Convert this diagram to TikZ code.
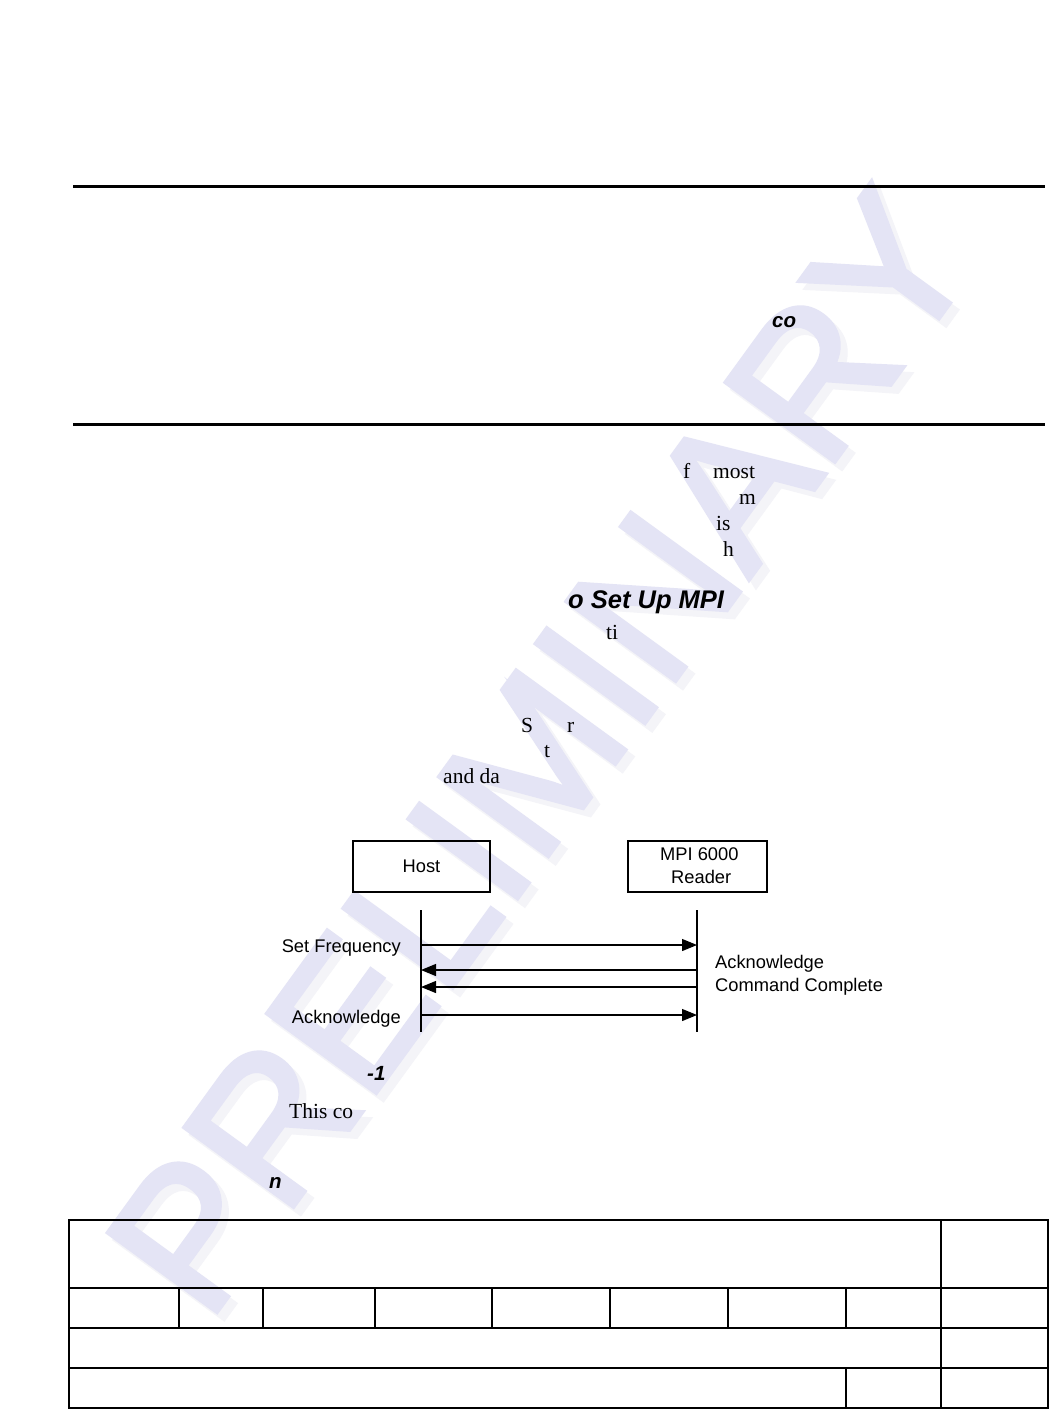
\documentclass[tikz,border=0pt]{standalone}
\usepackage{fontspec}
\setmainfont{Liberation Serif}
\newfontfamily\sansf{Liberation Sans}
\newfontfamily\wmfont{Liberation Sans}[FakeBold=2.5]
\usetikzlibrary{arrows.meta}
\definecolor{wmcol}{RGB}{228,228,245}
\definecolor{wmshadow}{RGB}{244,244,248}
\tikzset{
  body/.style={anchor=base west, inner sep=0pt, font=\fontsize{21.5}{26}\selectfont},
  headbi/.style={anchor=base west, inner sep=0pt, font=\sansf\bfseries\itshape\fontsize{20.5}{24}\selectfont},
  bigbi/.style={anchor=base west, inner sep=0pt, font=\sansf\bfseries\itshape\fontsize{25.5}{30}\selectfont},
  lbl/.style={inner sep=0pt, font=\sansf\fontsize{18.3}{22}\selectfont},
  actor/.style={draw, line width=1.4pt, minimum width=137pt, minimum height=51pt, inner sep=0pt, font=\sansf\fontsize{18.3}{23}\selectfont, align=center},
  life/.style={line width=1.4pt},
  msg/.style={line width=1.2pt, -{Triangle[length=15pt,width=12pt]}},
  rule/.style={line width=3pt},
  grid/.style={line width=1.8pt},
  wm/.style={anchor=base, inner sep=0pt, rotate=54, font=\wmfont\fontsize{195}{195}\selectfont}
}
\begin{document}
\begin{tikzpicture}[x=1pt,y=-1pt]
\useasboundingbox (0,0) rectangle (1049,1409);
\fill[white] (0,0) rectangle (1049,1409);
% watermark
\node[wm, text=wmshadow] (wms) at (602,798) {PRELIMINARY};
\node[wm, text=wmcol] (wm) at (595,791) {PRELIMINARY};
% rules
\draw[rule] (73,186) -- (1045,186);
\draw[rule] (73,424) -- (1045,424);
% text fragments
\node[headbi] (t1) at (772,327) {co};
\node[body] (t2) at (683,478) {f};
\node[body] (t3) at (713,478) {most};
\node[body] (t4) at (739,504) {m};
\node[body] (t5) at (716,530) {is};
\node[body] (t6) at (723,556) {h};
\node[bigbi] (t7) at (568,608) {o Set Up MPI};
\node[body] (t8) at (606,639) {ti};
\node[body] (t9) at (521,732) {S};
\node[body] (t10) at (567,732) {r};
\node[body] (t11) at (544,757) {t};
\node[body] (t12) at (443,783) {and da};
\node[headbi] (t13) at (367,1080) {-1};
\node[body] (t14) at (289,1118) {This co};
\node[headbi] (t15) at (269,1188) {n};
% sequence diagram
\node[actor] (host) at (421.5,866.5) {Host};
\node[actor, minimum width=139pt] (reader) at (697.5,866.5) {};
\node[lbl, anchor=base west] (rd1) at (660,860) {MPI 6000};
\node[lbl, anchor=base west] (rd2) at (671,883) {Reader};
\coordinate (h0) at (421,910);
\coordinate (h1) at (421,1032);
\coordinate (r0) at (697,910);
\coordinate (r1) at (697,1032);
\draw[life] (h0) -- (h1);
\draw[life] (r0) -- (r1);
\coordinate (ha) at (421,945); \coordinate (ra) at (697,945);
\coordinate (hb) at (421,970); \coordinate (rb) at (697,970);
\coordinate (hc) at (421,987); \coordinate (rc) at (697,987);
\coordinate (hd) at (421,1015); \coordinate (rd) at (697,1015);
\draw[msg] (ha) -- (ra);
\draw[msg] (rb) -- (hb);
\draw[msg] (rc) -- (hc);
\draw[msg] (hd) -- (rd);
\node[lbl, anchor=base east] (l1) at (401,952) {Set Frequency};
\node[lbl, anchor=base east] (l2) at (401,1023) {Acknowledge};
\node[lbl, anchor=base west] (l3) at (715,968) {Acknowledge};
\node[lbl, anchor=base west] (l4) at (715,991) {Command Complete};
% table
\draw[grid] (69,1220) rectangle (1048,1408);
\draw[grid] (69,1288) -- (1048,1288);
\draw[grid] (69,1328) -- (1048,1328);
\draw[grid] (69,1368) -- (1048,1368);
\draw[grid] (941,1220) -- (941,1408);
\foreach \x in {179,263,375,492,610,728,846} \draw[grid] (\x,1288) -- (\x,1328);
\draw[grid] (846,1368) -- (846,1408);
\end{tikzpicture}
\end{document}
